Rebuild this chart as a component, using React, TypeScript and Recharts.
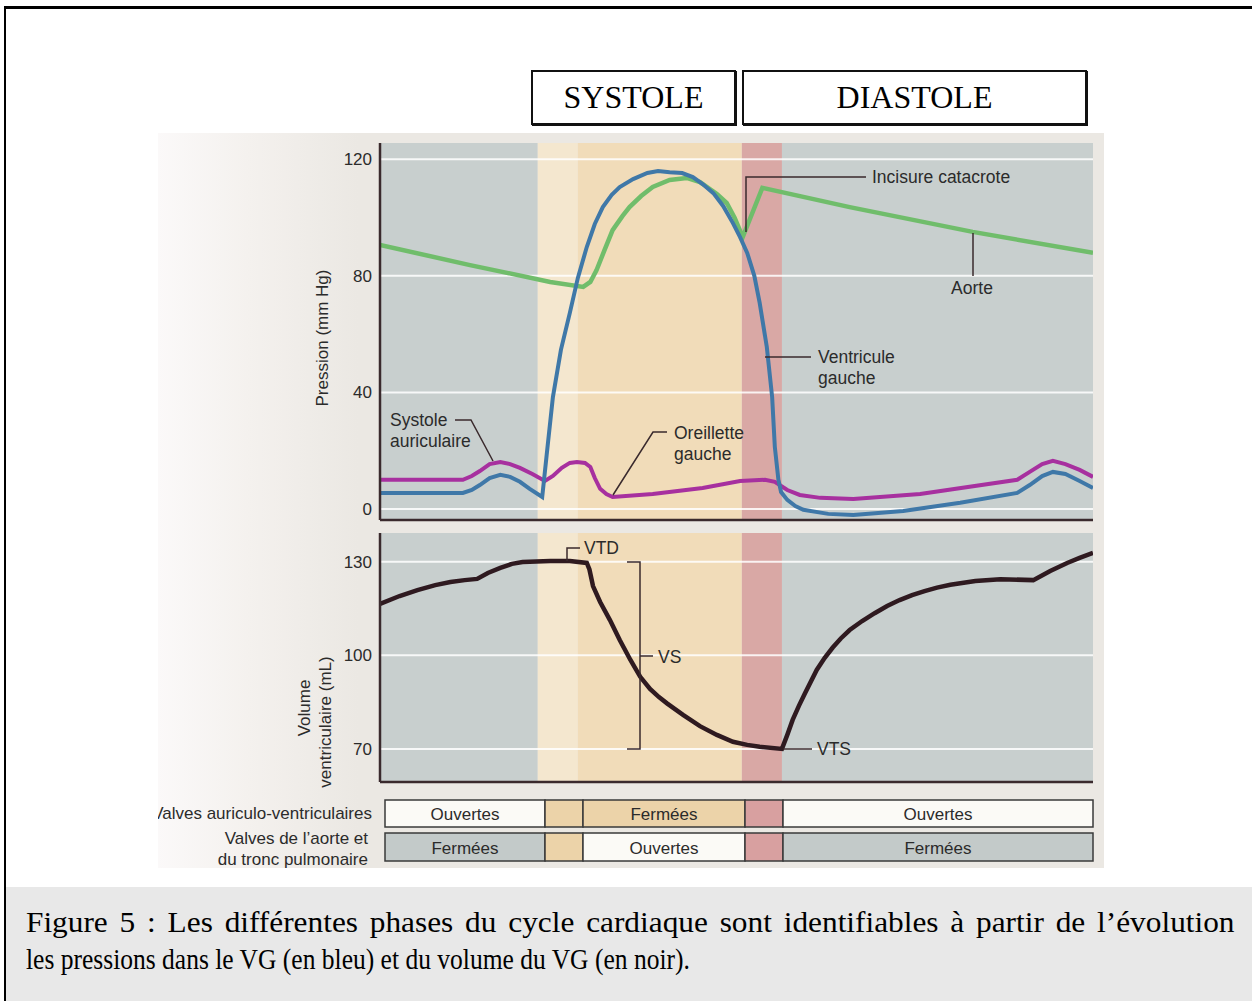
import React from 'react';
import { LineChart, Line, XAxis, YAxis, ReferenceArea, ReferenceLine } from 'recharts';

// ---- data (time in ms over one cardiac cycle) ----
const phaseBounds = [0, 177, 222, 406, 451, 800];

const pressureTicks = [0, 40, 80, 120];
const volumeTicks = [70, 100, 130];

const aorte = [
  { t: 0, p: 90.6 }, { t: 101, p: 83.7 }, { t: 191, p: 77.9 }, { t: 228, p: 76.2 },
  { t: 236, p: 77.9 }, { t: 243, p: 82.0 }, { t: 252, p: 88.9 }, { t: 261, p: 95.7 },
  { t: 272, p: 100.5 }, { t: 280, p: 103.6 }, { t: 293, p: 107.4 }, { t: 306, p: 110.5 },
  { t: 325, p: 112.9 }, { t: 344, p: 113.6 }, { t: 359, p: 112.2 }, { t: 367, p: 110.5 },
  { t: 378, p: 108.1 }, { t: 389, p: 105.0 }, { t: 398, p: 99.9 }, { t: 407, p: 93.3 },
  { t: 429, p: 110.2 }, { t: 527, p: 103.6 }, { t: 665, p: 95.1 }, { t: 800, p: 87.9 },
];

const ventricule = [
  { t: 0, p: 5.5 }, { t: 93, p: 5.5 }, { t: 103, p: 6.5 }, { t: 112, p: 8.2 },
  { t: 123, p: 10.6 }, { t: 135, p: 11.7 }, { t: 146, p: 11.0 }, { t: 157, p: 9.3 },
  { t: 168, p: 6.9 }, { t: 182, p: 4.1 }, { t: 187, p: 18.5 }, { t: 194, p: 38.4 },
  { t: 203, p: 54.6 }, { t: 213, p: 67.3 }, { t: 222, p: 79.3 }, { t: 232, p: 89.9 },
  { t: 241, p: 97.8 }, { t: 250, p: 103.6 }, { t: 260, p: 107.8 }, { t: 269, p: 110.5 },
  { t: 284, p: 113.2 }, { t: 300, p: 115.3 }, { t: 312, p: 116.0 }, { t: 325, p: 115.6 },
  { t: 339, p: 115.3 }, { t: 351, p: 113.9 }, { t: 362, p: 111.5 }, { t: 374, p: 108.4 },
  { t: 385, p: 104.0 }, { t: 396, p: 98.1 }, { t: 404, p: 93.3 }, { t: 412, p: 87.9 },
  { t: 420, p: 80.0 }, { t: 426, p: 70.7 }, { t: 434, p: 55.6 }, { t: 440, p: 38.4 },
  { t: 443, p: 21.3 }, { t: 447, p: 10.0 }, { t: 450, p: 5.8 }, { t: 457, p: 3.1 },
  { t: 466, p: 1.0 }, { t: 475, p: -0.3 }, { t: 503, p: -1.7 }, { t: 531, p: -2.1 },
  { t: 559, p: -1.4 }, { t: 587, p: -0.7 }, { t: 651, p: 2.1 }, { t: 715, p: 5.5 },
  { t: 729, p: 8.2 }, { t: 743, p: 11.3 }, { t: 755, p: 12.7 }, { t: 769, p: 12.0 },
  { t: 785, p: 9.6 }, { t: 800, p: 7.2 },
];

const oreillette = [
  { t: 0, p: 10.0 }, { t: 93, p: 10.0 }, { t: 103, p: 11.3 }, { t: 112, p: 13.0 },
  { t: 123, p: 15.4 }, { t: 135, p: 16.1 }, { t: 146, p: 15.4 }, { t: 157, p: 14.1 },
  { t: 171, p: 12.0 }, { t: 185, p: 9.6 }, { t: 194, p: 11.3 }, { t: 204, p: 14.1 },
  { t: 213, p: 15.8 }, { t: 221, p: 16.1 }, { t: 230, p: 15.8 }, { t: 236, p: 14.4 },
  { t: 241, p: 10.6 }, { t: 247, p: 6.9 }, { t: 254, p: 5.1 }, { t: 261, p: 4.1 },
  { t: 306, p: 5.1 }, { t: 362, p: 7.2 }, { t: 404, p: 9.6 }, { t: 432, p: 10.0 },
  { t: 443, p: 9.3 }, { t: 457, p: 6.5 }, { t: 471, p: 4.8 }, { t: 494, p: 3.8 },
  { t: 531, p: 3.4 }, { t: 606, p: 5.1 }, { t: 715, p: 10.0 }, { t: 729, p: 12.7 },
  { t: 743, p: 15.4 }, { t: 755, p: 16.5 }, { t: 769, p: 15.4 }, { t: 785, p: 13.4 },
  { t: 800, p: 11.0 },
];

const volume = [
  { t: 0, v: 116.5 }, { t: 22, v: 119.0 }, { t: 42, v: 120.9 }, { t: 62, v: 122.5 },
  { t: 79, v: 123.5 }, { t: 95, v: 124.1 }, { t: 109, v: 124.5 }, { t: 121, v: 126.4 },
  { t: 135, v: 128.0 }, { t: 148, v: 129.3 }, { t: 160, v: 129.9 }, { t: 191, v: 130.2 },
  { t: 213, v: 130.2 }, { t: 232, v: 129.6 }, { t: 235, v: 127.5 }, { t: 239, v: 122.2 },
  { t: 247, v: 117.1 }, { t: 258, v: 111.3 }, { t: 269, v: 104.9 }, { t: 281, v: 98.5 },
  { t: 292, v: 93.1 }, { t: 303, v: 89.2 }, { t: 313, v: 86.6 }, { t: 322, v: 84.6 },
  { t: 340, v: 80.9 }, { t: 359, v: 77.3 }, { t: 378, v: 74.5 }, { t: 396, v: 72.3 },
  { t: 412, v: 71.3 }, { t: 426, v: 70.7 }, { t: 451, v: 70.0 }, { t: 457, v: 74.5 },
  { t: 463, v: 79.3 }, { t: 470, v: 83.8 }, { t: 477, v: 87.9 }, { t: 490, v: 95.3 },
  { t: 499, v: 99.2 }, { t: 508, v: 102.5 }, { t: 517, v: 105.4 }, { t: 527, v: 108.1 },
  { t: 541, v: 111.0 }, { t: 555, v: 113.5 }, { t: 569, v: 115.8 }, { t: 583, v: 117.7 },
  { t: 597, v: 119.3 }, { t: 611, v: 120.6 }, { t: 625, v: 121.7 }, { t: 640, v: 122.6 },
  { t: 668, v: 123.8 }, { t: 696, v: 124.4 }, { t: 733, v: 124.1 }, { t: 752, v: 127.0 },
  { t: 771, v: 129.6 }, { t: 785, v: 131.2 }, { t: 800, v: 132.8 },
];

const valvesAV = ['Ouvertes', '', 'Fermées', '', 'Ouvertes'];
const valvesSL = ['Fermées', '', 'Ouvertes', '', 'Fermées'];

// ---- styles ----
const bandFills = ['#c8cfce', '#f4e7cf', '#f1dcb9', '#d9a8a5', '#c8cfce'];
const avFills = ['#fbfaf6', '#ecd3a9', '#ecd3a9', '#d8a0a0', '#fbfaf6'];
const slFills = ['#c3cac9', '#ecd3a9', '#fbfaf6', '#d8a0a0', '#c3cac9'];
const tableCols = [385, 545, 583, 745, 783, 1093];

const SANS = "'Liberation Sans', Arial, sans-serif";
const SERIF = "'Liberation Serif', 'Times New Roman', serif";
const INK = '#3a2a2d';
const TXT = '#2b2b2b';

const bandAreas = (prefix: string) =>
  phaseBounds.slice(0, -1).map((b, i) => (
    <ReferenceArea
      key={prefix + i}
      x1={b}
      x2={phaseBounds[i + 1]}
      fill={bandFills[i]}
      fillOpacity={1}
      stroke="none"
    />
  ));

export default function App() {
  const tick = { fill: TXT, fontSize: 17, fontFamily: SANS };
  const ann = { fontFamily: SANS, fontSize: 17.5, fill: TXT } as const;
  const ld = { stroke: INK, strokeWidth: 1.5, fill: 'none' } as const;
  return (
    <div style={{ position: 'absolute', left: 0, top: 0, width: 1252, height: 1001, background: '#fff', overflow: 'hidden' }}>
      {/* frame */}
      <div style={{ position: 'absolute', left: 4, top: 6, width: 1260, height: 1010, borderTop: '3px solid #000', borderLeft: '2px solid #000', boxSizing: 'border-box' }} />
      {/* header */}
      <div style={{ position: 'absolute', left: 531, top: 70, width: 205, height: 55, border: '2px solid #111', boxShadow: '1px 1px 0 #111', boxSizing: 'border-box', display: 'flex', alignItems: 'center', justifyContent: 'center', fontFamily: SERIF, fontSize: 32, color: '#000' }}>SYSTOLE</div>
      <div style={{ position: 'absolute', left: 742, top: 70, width: 345, height: 55, border: '2px solid #111', boxShadow: '1px 1px 0 #111', boxSizing: 'border-box', display: 'flex', alignItems: 'center', justifyContent: 'center', fontFamily: SERIF, fontSize: 32, color: '#000' }}>DIASTOLE</div>

      {/* scanned panel */}
      <div style={{ position: 'absolute', left: 158, top: 133, width: 946, height: 735, overflow: 'hidden', background: 'linear-gradient(to right, #fbf9f9 0px, #f4f1ee 90px, #ebe8e3 200px, #ebe8e3 946px)', fontFamily: SANS, color: TXT }}>
        <div style={{ position: 'absolute', right: 946 - 214, top: 671, fontSize: 17, whiteSpace: 'nowrap', lineHeight: '20px' }}>Valves auriculo-ventriculaires</div>
        <div style={{ position: 'absolute', right: 946 - 210, top: 695, fontSize: 17, whiteSpace: 'nowrap', lineHeight: '21px', textAlign: 'right' }}>
          Valves de l’aorte et<br />du tronc pulmonaire
        </div>
      </div>

      {/* pressure chart */}
      <div style={{ position: 'absolute', left: 280, top: 133 }}>
        <LineChart width={830} height={400} margin={{ top: 10, right: 17, left: 40, bottom: 12 }}>
          <XAxis type="number" dataKey="t" domain={[0, 800]} tick={false} tickLine={false} height={1} axisLine={{ stroke: INK, strokeWidth: 2.5 }} allowDataOverflow />
          <YAxis type="number" domain={[-3.8, 125.6]} ticks={pressureTicks} interval={0} width={60} tickLine={false} axisLine={{ stroke: INK, strokeWidth: 2.5 }} tick={tick} allowDataOverflow />
          {bandAreas('p')}
          {pressureTicks.map((v) => (
            <ReferenceLine key={'pg' + v} y={v} stroke="#ffffff" strokeOpacity={0.85} strokeWidth={2} />
          ))}
          <Line data={aorte} dataKey="p" type="linear" stroke="#70bd6b" strokeWidth={4.5} dot={false} isAnimationActive={false} />
          <Line data={oreillette} dataKey="p" type="linear" stroke="#a7309f" strokeWidth={4} dot={false} isAnimationActive={false} />
          <Line data={ventricule} dataKey="p" type="linear" stroke="#3f78a8" strokeWidth={4} dot={false} isAnimationActive={false} />
        </LineChart>
      </div>

      {/* volume chart */}
      <div style={{ position: 'absolute', left: 280, top: 520 }}>
        <LineChart width={830} height={275} margin={{ top: 13, right: 17, left: 40, bottom: 12 }}>
          <XAxis type="number" dataKey="t" domain={[0, 800]} tick={false} tickLine={false} height={1} axisLine={{ stroke: INK, strokeWidth: 2.5 }} allowDataOverflow />
          <YAxis type="number" domain={[59.4, 139.2]} ticks={volumeTicks} interval={0} width={60} tickLine={false} axisLine={{ stroke: INK, strokeWidth: 2.5 }} tick={tick} allowDataOverflow />
          {bandAreas('v')}
          {volumeTicks.map((v) => (
            <ReferenceLine key={'vg' + v} y={v} stroke="#ffffff" strokeOpacity={0.85} strokeWidth={2} />
          ))}
          <Line data={volume} dataKey="v" type="linear" stroke="#2f1a20" strokeWidth={4.5} dot={false} isAnimationActive={false} />
        </LineChart>
      </div>

      {/* annotations, axis titles, table */}
      <svg width={1252} height={1001} style={{ position: 'absolute', left: 0, top: 0, pointerEvents: 'none' }}>
        <text x={328} y={338} transform="rotate(-90 328 338)" textAnchor="middle" {...ann} fontSize={17}>Pression (mm Hg)</text>
        <text x={310} y={708} transform="rotate(-90 310 708)" textAnchor="middle" {...ann} fontSize={17}>Volume</text>
        <text x={331} y={722} transform="rotate(-90 331 722)" textAnchor="middle" {...ann} fontSize={17}>ventriculaire (mL)</text>

        <text x={390} y={426} {...ann}>Systole</text>
        <text x={390} y={447} {...ann}>auriculaire</text>
        <polyline points="455,420 471,420 493,461" {...ld} />

        <text x={674} y={439} {...ann}>Oreillette</text>
        <text x={674} y={460} {...ann}>gauche</text>
        <polyline points="667,432 653,432 613,495" {...ld} />

        <text x={818} y={363} {...ann}>Ventricule</text>
        <text x={818} y={384} {...ann}>gauche</text>
        <line x1={765} y1={357} x2={811} y2={357} {...ld} />

        <text x={872} y={183} {...ann}>Incisure catacrote</text>
        <polyline points="746,232 746,177 866,177" {...ld} />

        <text x={972} y={294} textAnchor="middle" {...ann}>Aorte</text>
        <line x1={973} y1={233} x2={973} y2={276} {...ld} />

        <polyline points="567,561 567,548 580,548" {...ld} />
        <text x={584} y={554} {...ann}>VTD</text>
        <polyline points="627,562 640,562 640,749 627,749" {...ld} />
        <line x1={640} y1={656} x2={653} y2={656} {...ld} />
        <text x={658} y={663} {...ann}>VS</text>
        <line x1={783} y1={749} x2={812} y2={749} {...ld} />
        <text x={817} y={755} {...ann}>VTS</text>

        {valvesAV.map((lab, i) => (
          <g key={'av' + i}>
            <rect x={tableCols[i]} y={800} width={tableCols[i + 1] - tableCols[i]} height={27} fill={avFills[i]} stroke="#3a3a3a" strokeWidth={1.5} />
            {lab && <text x={(tableCols[i] + tableCols[i + 1]) / 2} y={820} textAnchor="middle" {...ann} fontSize={17}>{lab}</text>}
          </g>
        ))}
        {valvesSL.map((lab, i) => (
          <g key={'sl' + i}>
            <rect x={tableCols[i]} y={833} width={tableCols[i + 1] - tableCols[i]} height={28} fill={slFills[i]} stroke="#3a3a3a" strokeWidth={1.5} />
            {lab && <text x={(tableCols[i] + tableCols[i + 1]) / 2} y={854} textAnchor="middle" {...ann} fontSize={17}>{lab}</text>}
          </g>
        ))}
      </svg>

      {/* caption */}
      <div style={{ position: 'absolute', left: 6, top: 887, width: 1246, height: 114, background: '#e8e8e8' }} />
      <div style={{ position: 'absolute', left: 26, top: 908, width: 1119, fontFamily: SERIF, fontSize: 29, lineHeight: '29px', color: '#000', textAlign: 'justify', textAlignLast: 'justify', whiteSpace: 'nowrap' as const, transform: 'scaleX(1.08)', transformOrigin: '0 0' }}>
        Figure 5 : Les différentes phases du cycle cardiaque sont identifiables à partir de l’évolution
      </div>
      <div style={{ position: 'absolute', left: 26, top: 945, fontFamily: SERIF, fontSize: 29, lineHeight: '29px', color: '#000', whiteSpace: 'nowrap', transform: 'scaleX(0.88)', transformOrigin: '0 0' }}>
        les pressions dans le VG (en bleu) et du volume du VG (en noir).
      </div>
    </div>
  );
}
